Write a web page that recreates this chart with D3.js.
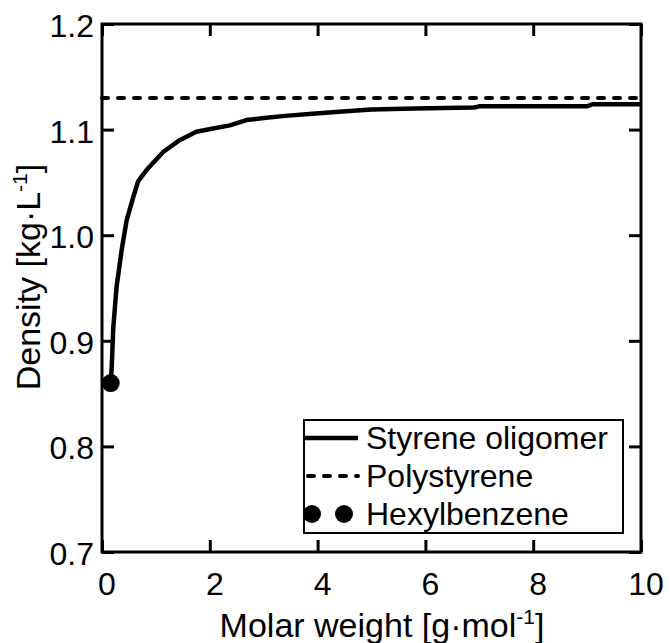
<!DOCTYPE html>
<html>
<head>
<meta charset="utf-8">
<script src="https://cdn.jsdelivr.net/npm/d3@7"></script>
<style>
  body { margin: 0; background: #fff; }
  text { font-family: "Liberation Sans", Arial, sans-serif; fill: #000; }
</style>
</head>
<body>
<svg id="svg" width="670" height="643"></svg>
<script>
// Styrene oligomer density vs molar weight (kg/mol)
let oligomerMw = [0.162, 0.18, 0.21, 0.27, 0.365, 0.457, 0.58, 0.67, 0.83, 1.14, 1.44, 1.75, 2.06, 2.37, 2.68, 3.0, 3.4, 3.9, 4.4, 5.0, 5.8, 6.9, 7.0, 9.0, 9.1, 10];
let oligomerDensity = [0.86, 0.875, 0.913, 0.951, 0.986, 1.014, 1.036, 1.051, 1.062, 1.079, 1.09, 1.098, 1.101, 1.104, 1.109, 1.111, 1.113, 1.115, 1.117, 1.119, 1.12, 1.121, 1.122, 1.122, 1.124, 1.124];

// Polystyrene bulk density (horizontal line)
let polystyreneDensity = 1.13;

// Hexylbenzene point
let hexylMw = [0.162];
let hexylDensity = [0.86];

let xTicks = [0, 2, 4, 6, 8, 10];
let yTicks = [0.7, 0.8, 0.9, 1.0, 1.1, 1.2];
let legendLabels = ["Styrene oligomer", "Polystyrene", "Hexylbenzene"];

let svg = d3.select("#svg");

let x = d3.scaleLinear().domain([0, 10]).range([102, 641]);
let y = d3.scaleLinear().domain([0.7, 1.2]).range([552, 24]);

//Tick marks on all four sides, pointing inward
svg.append("g").attr("transform", "translate(0,552)")
    .call(d3.axisBottom(x).tickValues(xTicks).tickSize(-12).tickFormat(""))
    .call(g => g.select(".domain").remove())
    .selectAll("line").attr("stroke", "#000").attr("stroke-width", 3);
svg.append("g").attr("transform", "translate(0,24)")
    .call(d3.axisTop(x).tickValues(xTicks).tickSize(-12).tickFormat(""))
    .call(g => g.select(".domain").remove())
    .selectAll("line").attr("stroke", "#000").attr("stroke-width", 3);
svg.append("g").attr("transform", "translate(102,0)")
    .call(d3.axisLeft(y).tickValues(yTicks).tickSize(-12).tickFormat(""))
    .call(g => g.select(".domain").remove())
    .selectAll("line").attr("stroke", "#000").attr("stroke-width", 3);
svg.append("g").attr("transform", "translate(641,0)")
    .call(d3.axisRight(y).tickValues(yTicks).tickSize(-12).tickFormat(""))
    .call(g => g.select(".domain").remove())
    .selectAll("line").attr("stroke", "#000").attr("stroke-width", 3);

//Frame
svg.append("rect")
    .attr("x", x(0)).attr("y", y(1.2))
    .attr("width", x(10) - x(0)).attr("height", y(0.7) - y(1.2))
    .attr("fill", "none").attr("stroke", "#000").attr("stroke-width", 3);

//Tick labels
svg.selectAll(".xlab").data(xTicks).enter().append("text")
    .attr("x", d => x(d) + 5).attr("y", 595)
    .attr("text-anchor", "middle").style("font-size", "32px")
    .text(d => d);
svg.selectAll(".ylab").data(yTicks).enter().append("text")
    .attr("x", 94).attr("y", d => y(d) + 13)
    .attr("text-anchor", "end").style("font-size", "32px")
    .text(d => d.toFixed(1));

//Axis titles
let xt = svg.append("text").attr("x", 382).attr("y", 637)
    .attr("text-anchor", "middle").style("font-size", "34px");
xt.append("tspan").text("Molar weight [g\u00b7mol");
xt.append("tspan").attr("dy", -13).style("font-size", "21px").text("-1");
xt.append("tspan").attr("dy", 13).text("]");

let yt = svg.append("text").attr("transform", "translate(40,277) rotate(-90)")
    .attr("text-anchor", "middle").style("font-size", "34px");
yt.append("tspan").text("Density [kg\u00b7L");
yt.append("tspan").attr("dy", -13).style("font-size", "21px").text("-1");
yt.append("tspan").attr("dy", 13).text("]");

//Polystyrene dashed line
svg.append("line")
    .attr("x1", x(0)).attr("x2", x(10))
    .attr("y1", y(polystyreneDensity)).attr("y2", y(polystyreneDensity))
    .attr("stroke", "#000").attr("stroke-width", 4)
    .attr("stroke-dasharray", "6,10").attr("stroke-linecap", "round");

//Oligomer curve
let pts = oligomerMw.map((m, i) => [m, oligomerDensity[i]]);
svg.append("path").datum(pts)
    .attr("d", d3.line().x(d => x(d[0])).y(d => y(d[1])))
    .attr("fill", "none").attr("stroke", "#000").attr("stroke-width", 4.5)
    .attr("stroke-linejoin", "round");

//Hexylbenzene marker
svg.selectAll(".hex").data(hexylMw).enter().append("circle")
    .attr("cx", d => x(d)).attr("cy", (d, i) => y(hexylDensity[i]))
    .attr("r", 9).attr("fill", "#000");

//Legend
let lg = svg.append("g");
lg.append("rect").attr("x", 304).attr("y", 420).attr("width", 319).attr("height", 113)
    .attr("fill", "#fff").attr("stroke", "#000").attr("stroke-width", 2);
let rowY = [438, 476, 514];
lg.append("line").attr("x1", 304).attr("x2", 358).attr("y1", rowY[0]).attr("y2", rowY[0])
    .attr("stroke", "#000").attr("stroke-width", 4.5);
lg.append("line").attr("x1", 308).attr("x2", 358).attr("y1", rowY[1]).attr("y2", rowY[1])
    .attr("stroke", "#000").attr("stroke-width", 4)
    .attr("stroke-dasharray", "6,10").attr("stroke-linecap", "round");
lg.selectAll(".lm").data([312, 344]).enter().append("circle")
    .attr("cx", d => d).attr("cy", rowY[2]).attr("r", 9).attr("fill", "#000");
lg.selectAll(".lt").data(legendLabels).enter().append("text")
    .attr("x", 366).attr("y", (d, i) => rowY[i] + 11)
    .style("font-size", "32px")
    .text(d => d);
</script>
</body>
</html>
